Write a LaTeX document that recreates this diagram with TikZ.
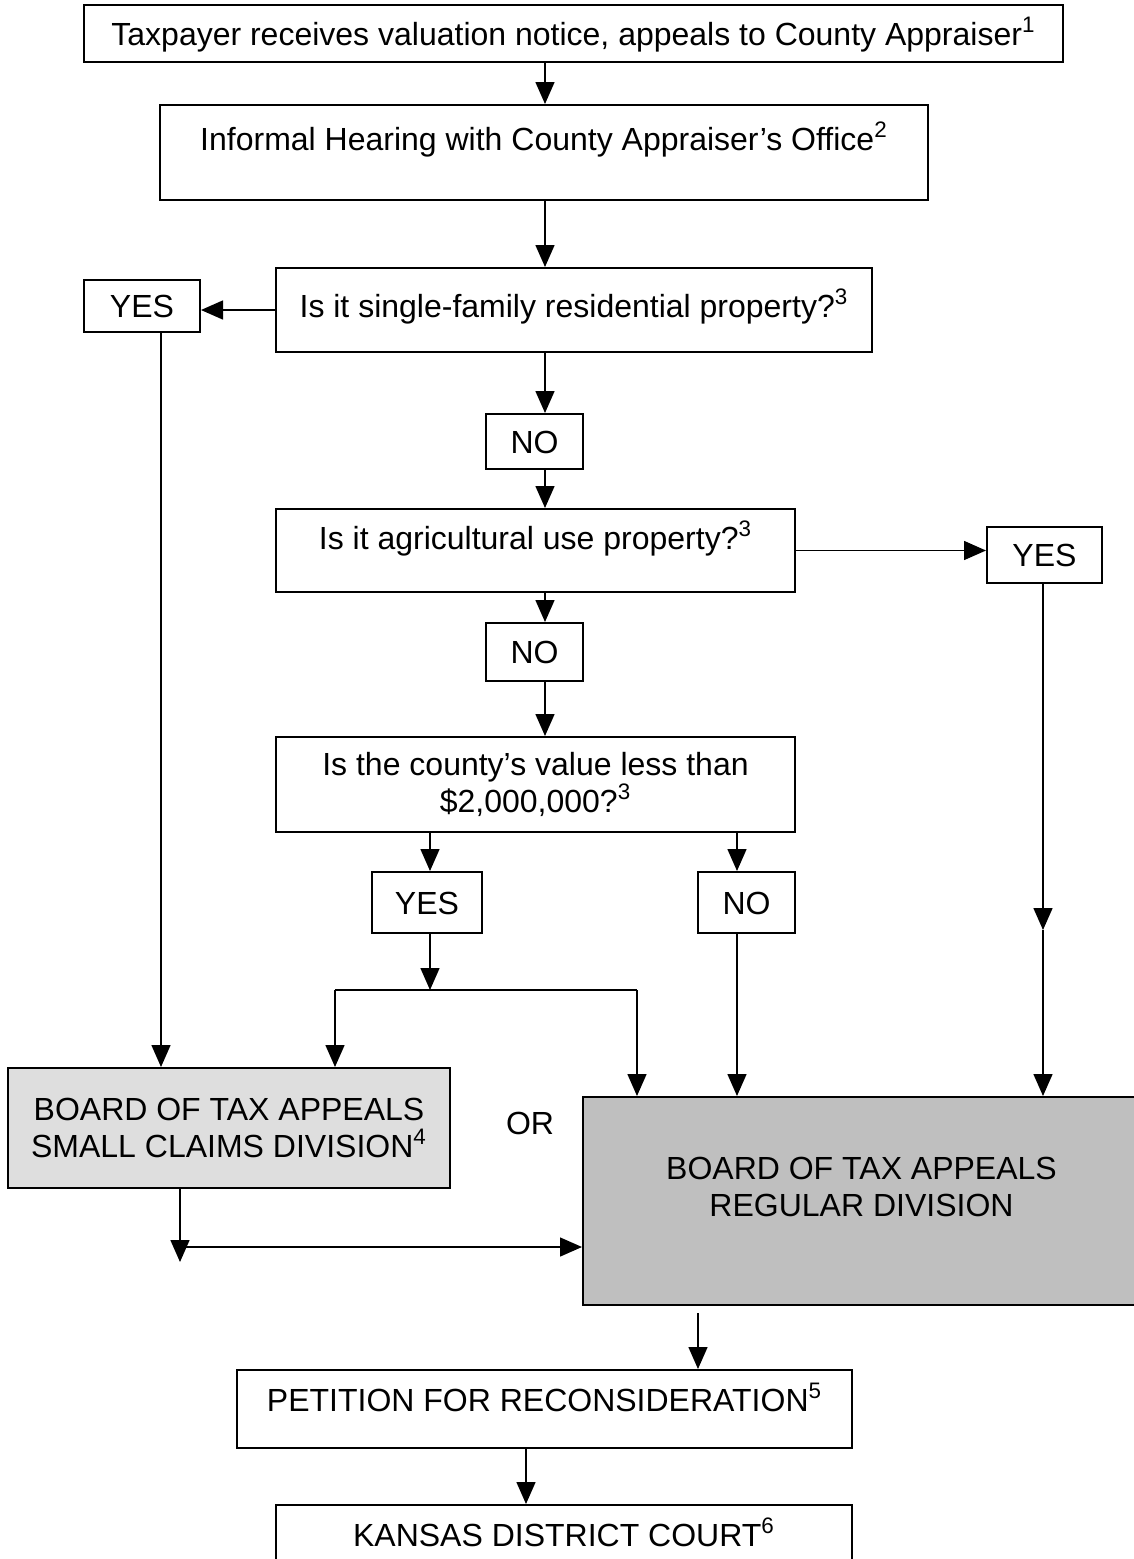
\documentclass[tikz,border=0pt]{standalone}
\usepackage{fontspec}
\setmainfont{Liberation Sans}
\usetikzlibrary{arrows.meta}

\tikzset{
	base/.style={draw=black, line width=1pt, inner sep=0pt, align=center},
	box/.style={base, text height=11.5pt, text depth=0pt},
	arr/.style={line width=0.75pt, -{Triangle[length=11pt,width=9.5pt]}},
	link/.style={line width=0.75pt}
}

\begin{document}
\begin{tikzpicture}[x=0.5pt, y=-0.5pt, font=\fontsize{16}{18.4}\selectfont]

\useasboundingbox (0,0) rectangle (1134,1559);

%question column
\node[box, minimum width=489.5pt, minimum height=28.5pt](taxpayer) at (573.5,33.5){Taxpayer receives valuation notice, appeals to County Appraiser\textsuperscript{1}};
\node[box, text depth=14pt, minimum width=384pt, minimum height=47.5pt](informal) at (544,152.5){Informal Hearing with County Appraiser’s Office\textsuperscript{2}};
\node[box, text depth=4pt, minimum width=298pt, minimum height=42pt](single) at (574,310){Is it single-family residential property?\textsuperscript{3}};
\node[box, minimum width=58pt, minimum height=26pt](yes1) at (142,306){YES};
\node[box, minimum width=48.5pt, minimum height=27.5pt](no1) at (534.5,441.5){NO};
\node[box, text depth=13pt, minimum width=259.5pt, minimum height=41.5pt](agri) at (535.5,550.5){Is it agricultural use property?\textsuperscript{3}};
\node[box, minimum width=57.5pt, minimum height=28pt](yes2) at (1044.5,555){YES};
\node[box, minimum width=48.5pt, minimum height=29pt](no2) at (534.5,652){NO};
\node[base, minimum width=259.5pt, minimum height=47.5pt](county) at (535.5,784.5){Is the county’s value less than\\ \$2,000,000?\textsuperscript{3}};
\node[box, minimum width=55pt, minimum height=30.5pt](yes3) at (427,902.5){YES};
\node[box, minimum width=48.5pt, minimum height=30.5pt](no3) at (746.5,902.5){NO};

%boards
\node[base, fill=black!13, minimum width=221pt, minimum height=60pt](small) at (229,1128){BOARD OF TAX APPEALS\\ SMALL CLAIMS DIVISION\textsuperscript{4}};
\node[base, fill=black!25, text depth=14pt, minimum width=278.5pt, minimum height=104pt](regular) at (861.5,1201){BOARD OF TAX APPEALS\\ REGULAR DIVISION};
\node(ortext) at (530,1123){OR};

%after the board
\node[box, text depth=9pt, minimum width=307.5pt, minimum height=39pt](petition) at (544.5,1409){PETITION FOR RECONSIDERATION\textsuperscript{5}};
\node[box, text depth=9pt, minimum width=288pt, minimum height=39pt](court) at (564,1544){KANSAS DISTRICT COURT\textsuperscript{6}};

%lanes
\coordinate (spine) at (545,0);
\coordinate (laneA) at (161,0);
\coordinate (laneB) at (430,0);
\coordinate (laneC) at (737,0);
\coordinate (agmid) at (1043,930);
\coordinate (fork) at (430,990);
\coordinate (forkl) at (335,990);
\coordinate (forkr) at (637,990);
\coordinate (smallout) at (180,1262);
\coordinate (smallturn) at (180,1247);
\coordinate (laneE) at (698,0);
\coordinate (laneF) at (526,0);

%main spine
\foreach \a/\b in {taxpayer/informal, informal/single, single/no1, no1/agri, agri/no2, no2/county}
{
	\draw[arr](\a.south -| spine)--(\b.north -| spine);
}

%yes branches
\draw[arr](single.west)--(single.west -| yes1.east);
\draw[arr](agri.east)--(agri.east -| yes2.west);
\draw[arr](yes1.south -| laneA)--(small.north -| laneA);
\draw[arr](yes2.south -| agmid)--(agmid);
\draw[arr](agmid)--(regular.north -| agmid);

%value question
\draw[arr](county.south -| laneB)--(yes3.north -| laneB);
\draw[arr](county.south -| laneC)--(no3.north -| laneC);
\draw[arr](yes3.south -| fork)--(fork);
\draw[link](forkl)--(forkr);
\draw[arr](forkl)--(small.north -| forkl);
\draw[arr](forkr)--(regular.north -| forkr);
\draw[arr](no3.south -| laneC)--(regular.north -| laneC);

%out of small claims
\draw[arr](small.south -| smallout)--(smallout);
\draw[arr](smallturn)--(regular.west |- smallturn);

%appeals
\draw[arr, shorten <=3.5pt](regular.south -| laneE)--(petition.north -| laneE);
\draw[arr](petition.south -| laneF)--(court.north -| laneF);
\end{tikzpicture}
\end{document}
